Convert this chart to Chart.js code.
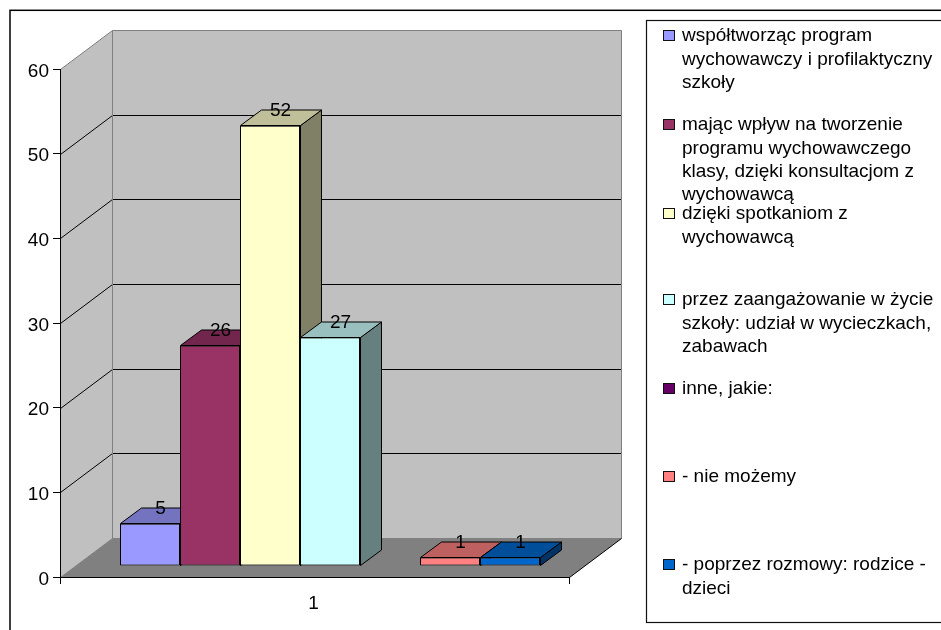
<!DOCTYPE html>
<html><head><meta charset="utf-8">
<style>html,body{margin:0;padding:0;background:#fff}canvas{display:block}</style>
<script src="https://cdn.jsdelivr.net/npm/chart.js@4"></script>
</head><body><canvas id="c" width="941" height="630"></canvas>
<script>
const categories = ['1'];
const seriesNames = [
  'współtworząc program wychowawczy i profilaktyczny szkoły',
  'mając wpływ na tworzenie programu wychowawczego klasy, dzięki konsultacjom z wychowawcą',
  'dzięki spotkaniom z wychowawcą',
  'przez zaangażowanie w życie szkoły: udział w wycieczkach, zabawach',
  'inne, jakie:',
  '- nie możemy',
  '- poprzez rozmowy: rodzice - dzieci'
];
const legendLines = [
  ['współtworząc program','wychowawczy i profilaktyczny','szkoły'],
  ['mając wpływ na tworzenie','programu wychowawczego','klasy, dzięki konsultacjom z','wychowawcą'],
  ['dzięki spotkaniom z','wychowawcą'],
  ['przez zaangażowanie w życie','szkoły: udział w wycieczkach,','zabawach'],
  ['inne, jakie:'],
  ['- nie możemy'],
  ['- poprzez rozmowy: rodzice -','dzieci']
];
const seriesValues = [5, 26, 52, 27, null, 1, 1];
const seriesColors = ['#9999FF','#993366','#FFFFCC','#CCFFFF','#660066','#FF8080','#0066CC'];
const yTicks = {min: 0, max: 60, step: 10};

const FONT_FAMILY = '"Liberation Sans", Arial, sans-serif';
const FONT_SIZE = 19;
const FONT = FONT_SIZE + 'px ' + FONT_FAMILY;
const WALL = {dx: 52, dy: -39};
const BAR_SHIFT = {dx: 15.5, dy: -11};
const BAR_DEPTH = {dx: 21, dy: -15.5};
const LEGEND_Y = [36, 125, 214, 300, 389, 477, 565];
const LEGEND_LH = 23.4;

function shade(hex, f){
  const n = parseInt(hex.slice(1), 16);
  return `rgb(${Math.round((n>>16)*f)},${Math.round(((n>>8)&255)*f)},${Math.round((n&255)*f)})`;
}
function poly(ctx, pts, fill, stroke){
  ctx.beginPath();
  pts.forEach((p,i)=> i ? ctx.lineTo(p[0],p[1]) : ctx.moveTo(p[0],p[1]));
  ctx.closePath();
  if (fill){ctx.fillStyle = fill; ctx.fill();}
  if (stroke){ctx.strokeStyle = stroke; ctx.lineWidth = 1; ctx.stroke();}
}
function line(ctx, a, b, color){
  ctx.beginPath(); ctx.moveTo(a[0],a[1]); ctx.lineTo(b[0],b[1]);
  ctx.strokeStyle = color; ctx.lineWidth = 1; ctx.stroke();
}

const scene3d = {
  id: 'scene3d',
  beforeDraw(chart){
    const {ctx, chartArea: a, scales: {y}} = chart;
    const w = WALL;
    ctx.save();
    ctx.fillStyle = '#fff'; ctx.fillRect(0,0,chart.width,chart.height);
    ctx.strokeStyle = '#000'; ctx.lineWidth = 1.5;
    ctx.strokeRect(10, 10.3, 960, 660);
    const L = a.left+.5, R = a.right+.5, T = a.top+.5, B = a.bottom+.5;
    poly(ctx, [[L,T],[L+w.dx,T+w.dy],[L+w.dx,B+w.dy],[L,B]], '#C0C0C0');
    poly(ctx, [[L+w.dx,T+w.dy],[R+w.dx,T+w.dy],[R+w.dx,B+w.dy],[L+w.dx,B+w.dy]], '#C0C0C0');
    poly(ctx, [[L,B],[L+w.dx,B+w.dy],[R+w.dx,B+w.dy],[R,B]], '#808080');
    for (let v = yTicks.min + yTicks.step; v < yTicks.max; v += yTicks.step){
      const py = Math.round(y.getPixelForValue(v))+.5;
      line(ctx, [L,py], [L+w.dx,py+w.dy], '#000');
      line(ctx, [L+w.dx,py+w.dy], [R+w.dx,py+w.dy], '#000');
    }
    line(ctx, [L,T], [L+w.dx,T+w.dy], '#808080');
    line(ctx, [L+w.dx,T+w.dy], [R+w.dx,T+w.dy], '#808080');
    line(ctx, [L+w.dx,T+w.dy], [L+w.dx,B+w.dy], '#808080');
    line(ctx, [R+w.dx,T+w.dy], [R+w.dx,B+w.dy], '#808080');
    line(ctx, [L,B], [L+w.dx,B+w.dy], '#808080');
    line(ctx, [L+w.dx,B+w.dy], [R+w.dx,B+w.dy], '#808080');
    line(ctx, [L,B], [R,B], '#000');
    line(ctx, [R,B], [R+w.dx,B+w.dy], '#000');
    ctx.restore();
  },
  // Bars are painted left to right below, so nearer faces overlap correctly.
  beforeDatasetDraw(){ return false; },
  afterDatasetsDraw(chart){
    const {ctx} = chart;
    const d = BAR_DEPTH;
    seriesValues.forEach((v,i)=>{
      if (v == null) return;
      const meta = chart.getDatasetMeta(i);
      const bar = meta.data[0];
      const col = seriesColors[i];
      const x0 = bar.x - bar.width/2 + .5, x1 = bar.x + bar.width/2 + .5;
      const yt = Math.floor(bar.y)+.5, yb = Math.round(bar.base)-.5;
      ctx.save();
      ctx.translate(BAR_SHIFT.dx, BAR_SHIFT.dy);
      poly(ctx, [[x1,yb],[x1+d.dx,yb+d.dy],[x1+d.dx,yt+d.dy],[x1,yt]], shade(col,.5), '#000');
      poly(ctx, [[x0,yt],[x0+d.dx,yt+d.dy],[x1+d.dx,yt+d.dy],[x1,yt]], shade(col,.75), '#000');
      meta.controller.draw();
      ctx.restore();
    });
    ctx.save();
    ctx.fillStyle = '#000'; ctx.font = FONT;
    ctx.textAlign = 'center'; ctx.textBaseline = 'middle';
    seriesValues.forEach((v,i)=>{
      if (v == null) return;
      const bar = chart.getDatasetMeta(i).data[0];
      ctx.fillText(String(v), bar.x + BAR_SHIFT.dx + d.dx/2, bar.y + BAR_SHIFT.dy + d.dy + .5);
    });
    ctx.strokeStyle = '#111'; ctx.lineWidth = 1.2;
    ctx.strokeRect(646.5, 20.5, 400, 602);
    ctx.lineWidth = 1;
    ctx.textAlign = 'left';
    legendLines.forEach((lines,i)=>{
      ctx.fillStyle = seriesColors[i];
      ctx.fillRect(663.5, LEGEND_Y[i]-5.5, 11, 10);
      ctx.strokeRect(663.5, LEGEND_Y[i]-5.5, 11, 10);
      ctx.fillStyle = '#000';
      lines.forEach((t,j)=> ctx.fillText(t, 682, LEGEND_Y[i] + j*LEGEND_LH));
    });
    ctx.restore();
  }
};

new Chart(document.getElementById('c'), {
  type: 'bar',
  data: {
    labels: categories,
    datasets: seriesNames.map((name,i)=>({
      label: name,
      data: [seriesValues[i]],
      backgroundColor: seriesColors[i],
      borderColor: '#000',
      borderWidth: 1,
      borderSkipped: false
    }))
  },
  options: {
    responsive: false,
    animation: false,
    categoryPercentage: 420/509,
    barPercentage: 1,
    layout: {padding: {top: 69, right: 372, left: 0, bottom: 0}},
    plugins: {legend: {display: false}, tooltip: {enabled: false}, title: {display: false}},
    scales: {
      x: {
        afterFit(s){ s.height = 53; },
        grid: {drawOnChartArea: false, drawTicks: true, tickLength: 7, color: '#000', offset: true},
        border: {display: false},
        ticks: {color: '#000', font: {family: FONT_FAMILY, size: FONT_SIZE}, padding: 8, maxRotation: 0, labelOffset: -1}
      },
      y: {
        min: yTicks.min, max: yTicks.max,
        afterFit(s){ s.width = 60; },
        grid: {drawOnChartArea: false, drawTicks: true, tickLength: 7, color: '#000'},
        border: {display: true, color: '#000'},
        ticks: {stepSize: yTicks.step, color: '#000', font: {family: FONT_FAMILY, size: FONT_SIZE}, padding: 4, labelOffset: 2.5}
      }
    }
  },
  plugins: [scene3d]
});
</script></body></html>
